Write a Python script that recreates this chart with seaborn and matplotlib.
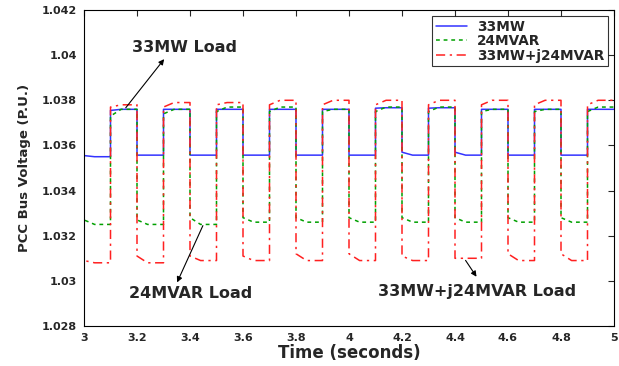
import numpy as np
import pandas as pd
import seaborn as sns
import matplotlib
matplotlib.use("Agg")
import matplotlib.pyplot as plt

# ---- data ----
edges = [3.0, 3.1, 3.2, 3.3, 3.4, 3.5, 3.6, 3.7, 3.8, 3.9, 4.0,
         4.1, 4.2, 4.3, 4.4, 4.5, 4.6, 4.7, 4.8, 4.9, 5.0]

mw_init = 1.0375
mw_start = [1.03555, 1.03755, 1.03557, 1.0376, 1.03557, 1.0376, 1.03557, 1.0376, 1.03557, 1.0376,
            1.03557, 1.03765, 1.0357, 1.03765, 1.0357, 1.0376, 1.03557, 1.0376, 1.03557, 1.0376]
mw_end = [1.0355, 1.0376, 1.03557, 1.0376, 1.03557, 1.0376, 1.03557, 1.0376, 1.03557, 1.0376,
          1.03557, 1.03767, 1.03557, 1.03767, 1.03557, 1.0376, 1.03557, 1.0376, 1.03557, 1.0376]

mvar_init = 1.0357
mvar_start = [1.0327, 1.0373, 1.0327, 1.0374, 1.0328, 1.0375, 1.0328, 1.0375, 1.0328, 1.0375,
              1.0328, 1.0375, 1.0328, 1.0375, 1.0328, 1.0375, 1.0328, 1.0375, 1.0328, 1.0375]
mvar_end = [1.0325, 1.0376, 1.0325, 1.0376, 1.0325, 1.0377, 1.0326, 1.0377, 1.0326, 1.0376,
            1.0326, 1.0377, 1.0326, 1.0377, 1.0326, 1.0376, 1.0326, 1.0376, 1.0326, 1.0377]

both_init = 1.0378
both_start = [1.0309, 1.0377, 1.0311, 1.0377, 1.0311, 1.0378, 1.0311, 1.0378, 1.0312, 1.0378,
              1.0312, 1.0378, 1.0311, 1.0378, 1.0310, 1.0378, 1.0312, 1.0378, 1.0312, 1.0378]
both_end = [1.0308, 1.0378, 1.0308, 1.0379, 1.0309, 1.0379, 1.0309, 1.0380, 1.0309, 1.0380,
            1.0309, 1.0380, 1.0309, 1.0380, 1.0310, 1.0380, 1.0309, 1.0380, 1.0309, 1.0380]

x_ticks = [3.0, 3.2, 3.4, 3.6, 3.8, 4.0, 4.2, 4.4, 4.6, 4.8, 5.0]
x_ticklabels = ["3", "3.2", "3.4", "3.6", "3.8", "4", "4.2", "4.4", "4.6", "4.8", "5"]
y_ticks = [1.028, 1.030, 1.032, 1.034, 1.036, 1.038, 1.040, 1.042]
y_ticklabels = ["1.028", "1.03", "1.032", "1.034", "1.036", "1.038", "1.04", "1.042"]


def build(init, starts, ends, settle=0.04):
    xs, ys = [edges[0]], [init]
    for i in range(len(starts)):
        t0, t1 = edges[i], edges[i + 1]
        xs += [t0, t0 + settle, t1]
        ys += [starts[i], ends[i], ends[i]]
    return pd.DataFrame({"t": xs, "v": ys})


sns.set_style("white")
plt.rcParams["font.family"] = ["DejaVu Sans"]
plt.rcParams["font.weight"] = "bold"

fig = plt.figure(figsize=(6.19, 3.66), dpi=100)
ax = fig.add_axes([84 / 619, 40 / 366, 530 / 619, 316 / 366])

series = [
    ("33MW", build(mw_init, mw_start, mw_end), "#3333ff", "-"),
    ("24MVAR", build(mvar_init, mvar_start, mvar_end), "#00a000", (0, (2.5, 2.5))),
    ("33MW+j24MVAR", build(both_init, both_start, both_end), "#ff2020", (0, (6, 3, 1.5, 3))),
]
for name, df, col, ls in series:
    sns.lineplot(data=df, x="t", y="v", ax=ax, estimator=None, sort=False,
                 color=col, linestyle=ls, linewidth=1.1, label=name)

ax.set_xlim(3.0, 5.0)
ax.set_ylim(1.028, 1.042)
ax.set_xticks(x_ticks)
ax.set_xticklabels(x_ticklabels, fontsize=8, fontweight="bold")
ax.set_yticks(y_ticks)
ax.set_yticklabels(y_ticklabels, fontsize=8, fontweight="bold")
ax.tick_params(direction="in", top=True, right=True, length=4, width=0.8, pad=5)
ax.set_xlabel("Time (seconds)", fontsize=12, fontweight="bold", labelpad=1)
ax.set_ylabel("PCC Bus Voltage (P.U.)", fontsize=9.5, fontweight="bold", labelpad=8)
for s in ax.spines.values():
    s.set_linewidth(0.8)
    s.set_color("black")

leg = ax.legend(loc="upper right", fontsize=9.8, frameon=True, fancybox=False,
                edgecolor="black", handlelength=2.3, handletextpad=0.75, borderpad=0.25,
                labelspacing=0.05, borderaxespad=0.45)
leg.get_frame().set_linewidth(0.8)
for t in leg.get_texts():
    t.set_fontweight("bold")

arrow = dict(arrowstyle="-|>", color="black", lw=0.8, mutation_scale=8)
ax.annotate("", xy=(3.309, 1.03992), xytext=(3.151, 1.03757), arrowprops=arrow)
ax.text(3.381, 1.04036, "33MW Load", fontsize=11.5, fontweight="bold", ha="center", va="center")
ax.annotate("", xy=(3.347, 1.02982), xytext=(3.453, 1.03256), arrowprops=arrow)
ax.text(3.404, 1.02946, "24MVAR Load", fontsize=11.5, fontweight="bold", ha="center", va="center")
ax.annotate("", xy=(4.487, 1.03008), xytext=(4.434, 1.03101), arrowprops=arrow)
ax.text(4.483, 1.02951, "33MW+j24MVAR Load", fontsize=11.5, fontweight="bold", ha="center", va="center")

fig.savefig("out.png", dpi=100)
